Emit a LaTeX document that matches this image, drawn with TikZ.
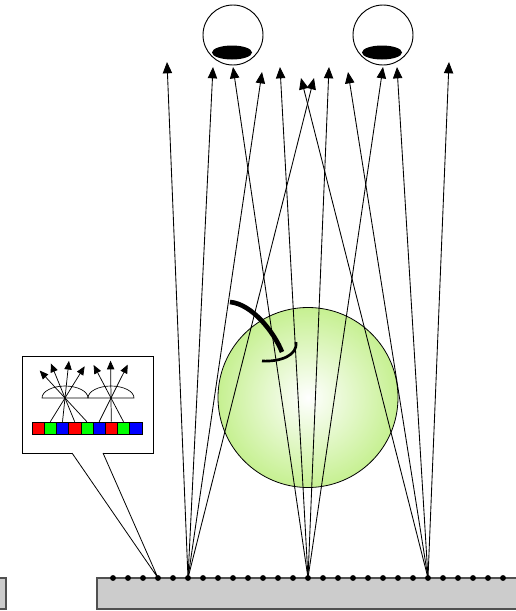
\documentclass[tikz,border=0pt]{standalone}
\usetikzlibrary{arrows.meta,calc}

\definecolor{panelgray}{RGB}{204,204,204}
\definecolor{paneledge}{RGB}{80,80,80}
\definecolor{spheregreen}{RGB}{198,240,145}

\begin{document}
\begin{tikzpicture}[x=0.75pt,y=0.75pt,yscale=-1,xscale=1,
  ray/.style={-{Triangle[length=8.5pt,width=7pt]},line width=0.65pt},
  miniray/.style={-{Triangle[length=6.5pt,width=5.5pt]},line width=0.55pt},
  panel/.style={fill=panelgray,draw=paneledge,line width=1.2pt},
  dot/.style={circle,fill=black,inner sep=0pt,minimum size=4.4pt},
  eye/.style={circle,draw,line width=0.7pt,minimum size=45pt,inner sep=0pt},
  cell/.style={draw,line width=0.4pt,minimum width=9.15pt,minimum height=9pt,inner sep=0pt}]
\useasboundingbox (0,0) rectangle (516,611);

% Panels
\draw[panel] (97,578) rectangle (540,609);
\draw[panel] (-30,578) rectangle (6,609);

% Pixel dots on the panel
\foreach \k in {0,...,26}
  \node[dot] (d\k) at (113+15*\k,578) {};

% Object
\draw[line width=0.6pt,inner color=white,outer color=spheregreen] (308,397.5) circle (90);

% Eyes
\node[eye] (eyeL) at (233,35) {};
\node[eye] (eyeR) at (383,35) {};
\fill (232,52.5) ellipse (20 and 7);
\fill (382,52.5) ellipse (20 and 7);

% Ray ends
\coordinate (t1) at (167,62);
\coordinate (t2) at (213,67);
\coordinate (t3) at (262,72);
\coordinate (t4) at (314,78);
\coordinate (t5) at (233,67);
\coordinate (t6) at (280,67);
\coordinate (t7) at (329,67);
\coordinate (t8) at (383,67);
\coordinate (t9) at (301,78);
\coordinate (t10) at (348,72);
\coordinate (t11) at (397,67);
\coordinate (t12) at (449,62);

% Rays from the three emitting pixels
\foreach \t in {t1,t2,t3,t4}
  \draw[ray] (d5.center) -- (\t);
\foreach \t in {t5,t6,t7,t8}
  \draw[ray] (d13.center) -- (\t);
\foreach \t in {t9,t10,t11,t12}
  \draw[ray] (d21.center) -- (\t);

% Hook
\draw[line width=3.5pt] (230,302) .. controls (252,304) and (274,332) .. (282,352);
\draw[line width=2pt] (262,361) .. controls (281,362) and (298,355) .. (296,342);

% Callout
\draw[line width=0.7pt] (72,453) -- (22,453) -- (22,356) -- (153,356) -- (153,453) -- (103,453);
\draw[line width=0.6pt] (72,453) -- (d3.center) -- (103,453);

% Subpixels
\foreach \c [count=\i from 0] in {red,green,blue,red,green,blue,red,green,blue}
  \node[cell,fill=\c] (px\i) at (38.1+12.2*\i,428) {};

% Lenses
\coordinate (lensA) at (65,398);
\coordinate (lensB) at (111,398);
\draw[line width=0.5pt] (42,398) arc[start angle=180,end angle=360,x radius=23,y radius=12] -- cycle;
\draw[line width=0.5pt] (88,398) arc[start angle=180,end angle=360,x radius=23,y radius=12] -- cycle;

% Lens rays
\foreach \p in {px1,px2,px3,px4}
  \draw[miniray] (\p.north) -- ($(lensA)!-28pt!(\p.north)$);
\foreach \p in {px5,px6,px7}
  \draw[miniray] (\p.north) -- ($(lensB)!-28pt!(\p.north)$);

\end{tikzpicture}
\end{document}
